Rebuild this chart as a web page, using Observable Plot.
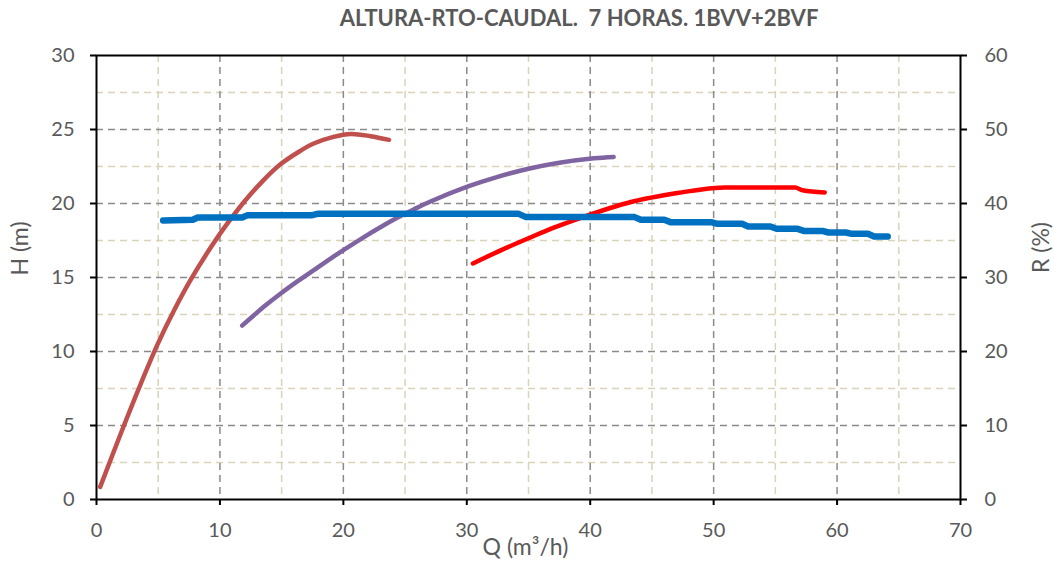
<!DOCTYPE html>
<html>
<head>
<meta charset="utf-8">
<script src="https://cdn.jsdelivr.net/npm/d3@7"></script>
<script src="https://cdn.jsdelivr.net/npm/@observablehq/plot@0.6"></script>
<style>
  html, body { margin: 0; padding: 0; background: white; }
  #title { height: 35px; width: 1054px; box-sizing: border-box; padding-left: 104px; padding-top: 4px;
           text-align: center; font-family: Lato, sans-serif; font-weight: bold; font-size: 22px;
           color: #595959; white-space: pre; }
</style>
</head>
<body>
<div id="title"></div>
<div id="chart"></div>
<script>
// ---- Data (Q in m3/h; H in m; R in %) ----
const titleText = "ALTURA-RTO-CAUDAL.  7 HORAS. 1BVV+2BVF";
const xLabel = "Q (m³/h)";
const yLabelLeft = "H (m)";
const yLabelRight = "R (%)";

const xTicks = [0, 10, 20, 30, 40, 50, 60, 70];
const xMinor = [5, 15, 25, 35, 45, 55, 65];
const hTicks = [0, 5, 10, 15, 20, 25, 30];
const hMinor = [2.5, 7.5, 12.5, 17.5, 22.5, 27.5];
const rTicks = [0, 10, 20, 30, 40, 50, 60];

// Blue: H (m) vs Q
const blueQ = [5.4, 7.8, 8.2, 11.8, 12.2, 17.4, 17.9, 34.2, 34.8, 43.6, 44.1, 46.0, 46.5, 49.8, 50.3, 52.3, 52.8, 54.6, 55.1, 56.8, 57.3, 58.8, 59.3, 60.7, 61.2, 62.5, 63.0, 64.1];
const blueH = [18.85, 18.9, 19.05, 19.05, 19.2, 19.2, 19.3, 19.3, 19.08, 19.08, 18.9, 18.9, 18.74, 18.74, 18.63, 18.63, 18.45, 18.45, 18.29, 18.29, 18.15, 18.15, 18.04, 18.04, 17.95, 17.95, 17.77, 17.77];

// Brown: R (%) vs Q
const brownQ = [0.3, 2.2, 3.6, 4.9, 6.3, 7.6, 9.0, 10.3, 12.0, 13.5, 14.9, 16.5, 17.6, 19.2, 20.6, 22.2, 23.7];
const brownR = [1.7, 9.9, 15.7, 20.8, 25.6, 29.6, 33.4, 36.6, 40.3, 43.1, 45.3, 47.1, 48.1, 49.0, 49.4, 49.1, 48.6];

// Purple: R (%) vs Q
const purpleQ = [11.8, 13.6, 14.9, 16.3, 17.6, 19.0, 20.1, 21.7, 23.0, 24.4, 25.7, 27.1, 30.1, 32.5, 35.0, 37.5, 40.3, 41.9];
const purpleR = [23.5, 26.1, 27.8, 29.5, 31.0, 32.6, 33.8, 35.5, 36.8, 38.1, 39.2, 40.3, 42.3, 43.6, 44.7, 45.5, 46.1, 46.3];

// Red: R (%) vs Q
const redQ = [30.5, 32.8, 35.0, 37.0, 39.3, 43.3, 47.4, 49.0, 50.9, 56.6, 57.2, 59.0];
const redR = [31.9, 33.7, 35.3, 36.7, 38.1, 40.2, 41.5, 41.9, 42.15, 42.15, 41.8, 41.5];

document.getElementById("title").textContent = titleText;

// ---- Build tables ----
const rToH = r => r / 2; // right axis 0-60 maps onto left axis 0-30
const blue = blueQ.map((q, i) => ({q, h: blueH[i]}));
const brown = brownQ.map((q, i) => ({q, h: rToH(brownR[i])}));
const purple = purpleQ.map((q, i) => ({q, h: rToH(purpleR[i])}));
const red = redQ.map((q, i) => ({q, h: rToH(redR[i])}));

const dash = "7,5";
const chart = Plot.plot({
  width: 1054,
  height: 527,
  marginLeft: 96,
  marginRight: 94,
  marginTop: 20,
  marginBottom: 63,
  x: {domain: [0, 70]},
  y: {domain: [0, 30]},
  style: {fontFamily: "Lato, sans-serif", fontSize: "20px", background: "white", overflow: "visible"},
  marks: [
    Plot.ruleX(xMinor, {stroke: "#d9d3b8", strokeWidth: 1.5, strokeDasharray: dash}),
    Plot.ruleY(hMinor, {stroke: "#d9d3b8", strokeWidth: 1.5, strokeDasharray: dash}),
    Plot.ruleX(xTicks.filter(d => d > 0 && d < 70), {stroke: "#8a8a8a", strokeWidth: 1.5, strokeDasharray: dash}),
    Plot.ruleY(hTicks.filter(d => d > 0 && d < 30), {stroke: "#8a8a8a", strokeWidth: 1.5, strokeDasharray: dash}),
    Plot.frame({stroke: "black", strokeWidth: 2}),
    Plot.axisX({ticks: xTicks, tickSize: 6, tickPadding: 17, stroke: "black", strokeWidth: 2, fill: "#595959", label: null}),
    Plot.axisY({anchor: "left", ticks: hTicks, tickSize: 6, tickPadding: 16, stroke: "black", strokeWidth: 2, fill: "#595959", label: null}),
    Plot.axisY({anchor: "right", ticks: hTicks, tickSize: 6, tickPadding: 18, stroke: "black", strokeWidth: 2, fill: "#595959",
                tickFormat: d => String(rTicks[hTicks.indexOf(d)]), label: null}),
    Plot.line(brown, {x: "q", y: "h", stroke: "#C0504D", strokeWidth: 4.5, curve: "catmull-rom", strokeLinecap: "round"}),
    Plot.line(purple, {x: "q", y: "h", stroke: "#8064A2", strokeWidth: 4.5, curve: "catmull-rom", strokeLinecap: "round"}),
    Plot.line(red, {x: "q", y: "h", stroke: "#FF0000", strokeWidth: 4.5, curve: "monotone-x", strokeLinecap: "round"}),
    Plot.line(blue, {x: "q", y: "h", stroke: "#0070C0", strokeWidth: 6.5, curve: "linear", strokeLinecap: "round", strokeLinejoin: "round"}),
    Plot.text([yLabelLeft], {frameAnchor: "left", textAnchor: "middle", dx: -76, dy: -29, rotate: -90, fill: "#595959", fontSize: 23}),
    Plot.text([yLabelRight], {frameAnchor: "right", textAnchor: "middle", dx: 81, dy: -30, rotate: -90, fill: "#595959", fontSize: 23}),
    Plot.text([xLabel], {frameAnchor: "bottom", dy: 55, dx: -3, fill: "#595959", fontSize: 23})
  ]
});
document.getElementById("chart").appendChild(chart);
</script>
</body>
</html>
